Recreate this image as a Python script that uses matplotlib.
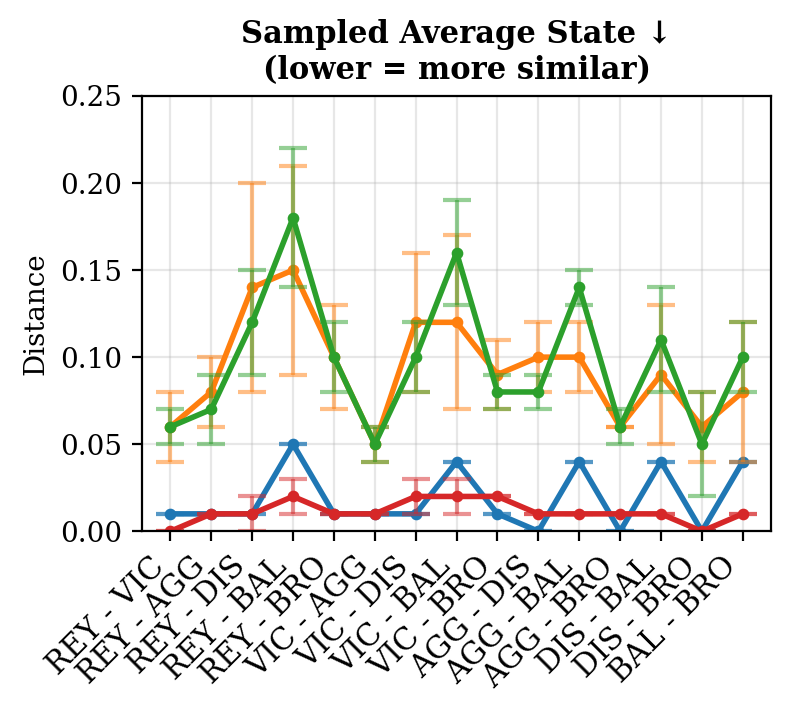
import matplotlib
matplotlib.use("Agg")
import matplotlib.pyplot as plt
import numpy as np

plt.rcParams['font.family'] = ['DejaVu Serif', 'DejaVu Sans']

categories = ["REY - VIC", "REY - AGG", "REY - DIS", "REY - BAL", "REY - BRO",
              "VIC - AGG", "VIC - DIS", "VIC - BAL", "VIC - BRO", "AGG - DIS",
              "AGG - BAL", "AGG - BRO", "DIS - BAL", "DIS - BRO", "BAL - BRO"]

blue_mean = [0.01, 0.01, 0.01, 0.05, 0.01, 0.01, 0.01, 0.04, 0.01, 0.00, 0.04, 0.00, 0.04, 0.00, 0.04]
blue_err = [0.0] * 15

orange_mean = [0.06, 0.08, 0.14, 0.15, 0.10, 0.05, 0.12, 0.12, 0.09, 0.10, 0.10, 0.06, 0.09, 0.06, 0.08]
orange_err = [0.02, 0.02, 0.06, 0.06, 0.03, 0.01, 0.04, 0.05, 0.02, 0.02, 0.02, 0.00, 0.04, 0.02, 0.04]

green_mean = [0.06, 0.07, 0.12, 0.18, 0.10, 0.05, 0.10, 0.16, 0.08, 0.08, 0.14, 0.06, 0.11, 0.05, 0.10]
green_err = [0.01, 0.02, 0.03, 0.04, 0.02, 0.01, 0.02, 0.03, 0.01, 0.01, 0.01, 0.01, 0.03, 0.03, 0.02]

red_mean = [0.00, 0.01, 0.01, 0.02, 0.01, 0.01, 0.02, 0.02, 0.02, 0.01, 0.01, 0.01, 0.01, 0.00, 0.01]
red_err = [0.0, 0.0, 0.01, 0.01, 0.0, 0.0, 0.01, 0.01, 0.0, 0.0, 0.0, 0.0, 0.0, 0.0, 0.0]

series = [
    (blue_mean, blue_err, "tab:blue"),
    (orange_mean, orange_err, "tab:orange"),
    (green_mean, green_err, "tab:green"),
    (red_mean, red_err, "tab:red"),
]

fig = plt.figure(figsize=(3.96, 3.58), dpi=200)
ax = fig.add_axes([0.179, 0.258, 0.795, 0.608])

x = np.arange(len(categories))
for mean, err, color in series:
    ax.errorbar(x, mean, yerr=err, fmt='none', ecolor=color, alpha=0.5,
                capsize=5, elinewidth=1.5, capthick=1.5)
    ax.plot(x, mean, marker='o', linestyle='-', color=color, markersize=3.2, linewidth=2)

ax.set_ylim(0, 0.25)
ax.set_yticks([0.0, 0.05, 0.10, 0.15, 0.20, 0.25])
ax.set_yticklabels(["0.00", "0.05", "0.10", "0.15", "0.20", "0.25"])
ax.set_xticks(x)
ax.set_xticklabels(categories, rotation=45, ha='right', rotation_mode='default')
ax.tick_params(axis='y', labelsize=10)
ax.tick_params(axis='x', labelsize=11)
ax.grid(True, alpha=0.3)
ax.set_ylabel("Distance", fontsize=10)
ax.set_title("Sampled Average State \u2193\n(lower = more similar)", fontsize=11, fontweight='bold')

fig.savefig("out.png", dpi=200)
